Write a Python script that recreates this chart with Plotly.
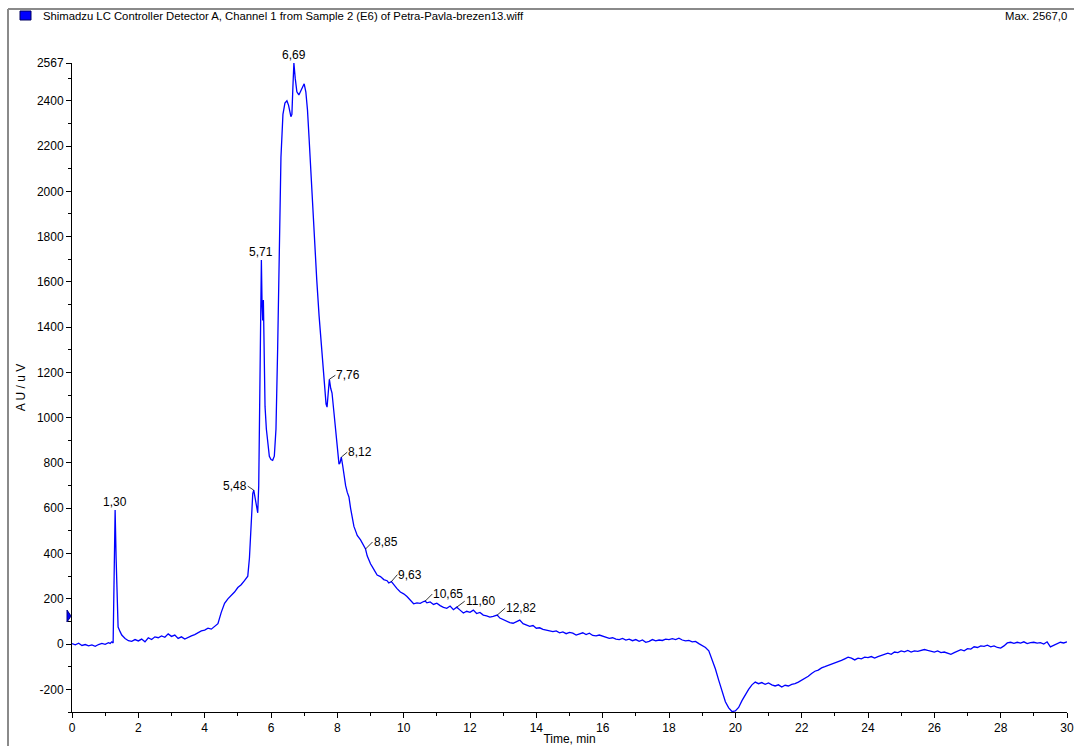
import plotly.graph_objects as go

# Chromatogram: retention time (min) vs detector response (uV)
time_min = [
    0.0, 0.1, 0.2, 0.3, 0.4, 0.5, 0.6, 0.7, 0.8, 0.9, 1.0, 1.1, 1.15, 1.2, 1.24,
    1.27, 1.30, 1.33, 1.36, 1.39, 1.45, 1.5, 1.6, 1.7, 1.8, 1.9, 2.0, 2.1, 2.2,
    2.3, 2.4, 2.5, 2.6, 2.7, 2.8, 2.9, 3.0, 3.1, 3.2, 3.3, 3.4, 3.5, 3.6, 3.7,
    3.8, 3.9, 4.0, 4.1, 4.2, 4.3, 4.4, 4.5, 4.6, 4.7, 4.8, 4.9, 5.0, 5.1, 5.2,
    5.3, 5.35, 5.4, 5.45, 5.48, 5.52, 5.56, 5.6, 5.63, 5.66, 5.69, 5.71, 5.73,
    5.75, 5.77, 5.79, 5.82, 5.86, 5.9, 5.95, 6.0, 6.05, 6.1, 6.15, 6.2, 6.25,
    6.3, 6.36, 6.42, 6.48, 6.53, 6.6, 6.63, 6.66, 6.69, 6.73, 6.78, 6.84, 6.9,
    6.96, 7.0, 7.05, 7.1, 7.15, 7.2, 7.3, 7.38, 7.45, 7.5, 7.57, 7.62, 7.66,
    7.69, 7.72, 7.76, 7.8, 7.84, 7.9, 7.95, 8.0, 8.05, 8.08, 8.12, 8.16, 8.2,
    8.25, 8.3, 8.35, 8.4, 8.45, 8.5, 8.55, 8.6, 8.7, 8.8, 8.85, 8.9, 9.0, 9.1,
    9.2, 9.3, 9.4, 9.5, 9.55, 9.63, 9.7, 9.8, 9.9, 10.0, 10.1, 10.2, 10.3, 10.4,
    10.5, 10.6, 10.65, 10.7, 10.8, 10.9, 11.0, 11.1, 11.2, 11.3, 11.4, 11.5,
    11.6, 11.7, 11.8, 11.9, 12.0, 12.1, 12.2, 12.3, 12.4, 12.5, 12.6, 12.7,
    12.82, 12.9, 13.0, 13.1, 13.2, 13.3, 13.4, 13.5, 13.6, 13.7, 13.8, 13.9,
    14.0, 14.1, 14.2, 14.3, 14.4, 14.5, 14.6, 14.7, 14.8, 14.9, 15.0, 15.1,
    15.2, 15.3, 15.4, 15.5, 15.6, 15.7, 15.8, 15.9, 16.0, 16.1, 16.2, 16.3,
    16.4, 16.5, 16.6, 16.7, 16.8, 16.9, 17.0, 17.1, 17.2, 17.3, 17.4, 17.5,
    17.6, 17.7, 17.8, 17.9, 18.0, 18.1, 18.2, 18.3, 18.4, 18.5, 18.6, 18.7,
    18.8, 18.9, 19.0, 19.1, 19.2, 19.3, 19.4, 19.5, 19.6, 19.7, 19.8, 19.9,
    20.0, 20.1, 20.2, 20.3, 20.4, 20.5, 20.6, 20.7, 20.8, 20.9, 21.0, 21.1,
    21.2, 21.3, 21.4, 21.5, 21.6, 21.7, 21.8, 21.9, 22.0, 22.1, 22.2, 22.3,
    22.4, 22.5, 22.6, 22.7, 22.8, 22.9, 23.0, 23.1, 23.2, 23.3, 23.4, 23.5,
    23.6, 23.7, 23.8, 23.9, 24.0, 24.1, 24.2, 24.3, 24.4, 24.5, 24.6, 24.7,
    24.8, 24.9, 25.0, 25.1, 25.2, 25.3, 25.4, 25.5, 25.6, 25.7, 25.8, 25.9,
    26.0, 26.1, 26.2, 26.3, 26.4, 26.5, 26.6, 26.7, 26.8, 26.9, 27.0, 27.1,
    27.2, 27.3, 27.4, 27.5, 27.6, 27.7, 27.8, 27.9, 28.0, 28.1, 28.2, 28.3,
    28.4, 28.5, 28.6, 28.7, 28.8, 28.9, 29.0, 29.1, 29.2, 29.3, 29.4, 29.5,
    29.6, 29.7, 29.8, 29.9, 30.0,
]

signal_uv = [
    2, -3, 4, -6, -2, -8, -4, -10, -2, 3, -1, 6, 3, 10, 5,
    300, 592, 380, 150, 75, 55, 40, 25, 15, 12, 20, 14, 22, 10,
    28, 20, 32, 28, 36, 30, 45, 34, 40, 25, 32, 22, 30, 36, 42,
    50, 58, 62, 70, 66, 78, 90, 140, 180, 200, 215, 230, 250, 262, 280,
    300, 380, 560, 665, 680, 640, 600, 580, 700, 1200, 1600, 1697, 1500,
    1430, 1520, 1250, 1050, 950, 880, 830, 815, 812, 830, 950, 1300, 1750,
    2150, 2340, 2390, 2400, 2380, 2330, 2340, 2460, 2567, 2500, 2440, 2426, 2445,
    2470, 2475, 2440, 2360, 2230, 2080, 1840, 1608, 1450, 1360, 1255, 1130, 1060,
    1047, 1100, 1170, 1130, 1109, 1020, 940, 850, 795, 800, 826, 790, 740,
    700, 670, 650, 600, 560, 520, 500, 480, 460, 430, 420, 390, 355, 330,
    305, 298, 285, 280, 270, 276, 262, 245, 230, 222, 210, 195, 178, 182,
    180, 188, 190, 182, 186, 175, 181, 170, 162, 158, 168, 152,
    163, 150, 137, 145, 140, 150, 135, 140, 128, 125, 119, 122,
    128, 115, 108, 100, 95, 92, 100, 106, 90, 85, 78, 82,
    70, 72, 65, 62, 60, 55, 58, 50, 54, 46, 52, 48,
    40, 45, 50, 42, 48, 38, 36, 40, 35, 30, 25, 28,
    22, 20, 25, 18, 22, 15, 20, 12, 18, 8, 12, 20,
    14, 18, 16, 22, 20, 24, 20, 26, 18, 14, 16, 10,
    12, 2, -5, -15, -30, -70, -110, -160, -205, -255, -282, -298,
    -295, -280, -250, -222, -200, -180, -168, -175, -170, -178, -172, -180,
    -185, -180, -190, -182, -185, -178, -175, -168, -160, -150, -142, -130,
    -120, -115, -105, -100, -95, -90, -85, -80, -72, -65, -58, -62,
    -70, -62, -65, -58, -60, -55, -62, -55, -50, -48, -40, -45,
    -35, -38, -30, -34, -28, -35, -30, -32, -28, -24, -28, -30,
    -35, -30, -38, -35, -40, -45, -38, -30, -25, -30, -20, -22,
    -12, -15, -8, -10, -5, -12, -8, -15, -18, -8, 5, 8,
    3, 8, 4, 10, 2, 6, 8, 4, 6, 0, 10, -12,
    -5, 0, 8, 5, 10,
]

# Peak labels: retention time and response at the apex
peak_labels = ["1,30", "5,48", "5,71", "6,69", "7,76", "8,12", "8,85",
               "9,63", "10,65", "11,60", "12,82"]
peak_times = [1.30, 5.48, 5.71, 6.69, 7.76, 8.12, 8.85, 9.63, 10.65, 11.60, 12.82]
peak_values = [592, 680, 1697, 2567, 1170, 826, 420, 276, 190, 163, 128]

y_tick_values = [-200, 0, 200, 400, 600, 800, 1000, 1200, 1400, 1600, 1800,
                 2000, 2200, 2400, 2567]
y_tick_labels = ["-200", "0", "200", "400", "600", "800", "1000", "1200",
                 "1400", "1600", "1800", "2000", "2200", "2400", "2567"]
x_tick_values = [0, 2, 4, 6, 8, 10, 12, 14, 16, 18, 20, 22, 24, 26, 28, 30]

baseline_mark = 124
y_min, y_max = -300, 2567

trace_title = ("Shimadzu LC Controller Detector A, Channel 1 from Sample 2 (E6) "
               "of Petra-Pavla-brezen13.wiff")
max_text = "Max. 2567,0"

FONT = "Liberation Sans, Arial, sans-serif"
W, H = 1074, 746
L, R, T, B = 72, 7, 63, 34
PW, PH = W - L - R, H - T - B


def px(xp):
    return (xp - L) / PW


def py(yp):
    return (H - B - yp) / PH


fig = go.Figure()
fig.add_trace(go.Scatter(
    x=time_min, y=signal_uv, mode="lines",
    line=dict(color="#0000ff", width=1.3),
    hoverinfo="skip", showlegend=False,
))

annotations = []
# None: label centred straight above the apex; otherwise leader-line offset in px
offsets = {
    "1,30": None, "5,71": None, "6,69": None,
    "5,48": (-6, -4), "7,76": (6, -4), "8,12": (6, -5), "8,85": (7, -7),
    "9,63": (6, -7), "10,65": (7, -7), "11,60": (8, -6), "12,82": (8, -7),
}
for lab, t, v in zip(peak_labels, peak_times, peak_values):
    off = offsets[lab]
    if off is None:
        annotations.append(dict(
            x=t, y=v, text=lab, showarrow=False, xanchor="center",
            yanchor="bottom", yshift=-1, font=dict(family=FONT, size=12, color="#000"),
        ))
    else:
        ax, ay = off
        annotations.append(dict(
            x=t, y=v, text=lab, showarrow=True, arrowhead=0, arrowwidth=0.8,
            arrowcolor="#000", ax=ax, ay=ay, standoff=0, borderpad=0,
            xanchor="left" if ax > 0 else "right", yanchor="middle",
            font=dict(family=FONT, size=12, color="#000"),
        ))

annotations.append(dict(
    xref="paper", yref="paper", x=px(41), y=py(16), text=trace_title,
    showarrow=False, xanchor="left", yanchor="middle",
    font=dict(family=FONT, size=11.3, color="#000"),
))
annotations.append(dict(
    xref="paper", yref="paper", x=px(1069), y=py(16), text=max_text,
    showarrow=False, xanchor="right", yanchor="middle",
    font=dict(family=FONT, size=11.3, color="#000"),
))

shapes = [
    # outer frame (left and top edges)
    dict(type="line", xref="paper", yref="paper", x0=px(8), x1=px(8),
         y0=py(9), y1=py(H + 5), line=dict(color="#8a8a8a", width=2)),
    dict(type="line", xref="paper", yref="paper", x0=px(8), x1=px(W + 5),
         y0=py(9), y1=py(9), line=dict(color="#8a8a8a", width=2)),
    # trace colour swatch
    dict(type="rect", xref="paper", yref="paper", x0=px(20), x1=px(31),
         y0=py(20), y1=py(11), fillcolor="#0000ff", line=dict(color="#000060", width=1)),
    # baseline marker on the response axis
    dict(type="path", xref="paper", yref="paper", xsizemode="pixel", ysizemode="pixel",
         xanchor=0, yanchor=(baseline_mark - y_min) / (y_max - y_min),
         path="M -5,6 L -1,0 L -5,-6 Z",
         fillcolor="#0000ff", line=dict(color="#000080", width=1)),
]

fig.update_layout(
    width=W, height=H,
    margin=dict(l=L, r=R, t=T, b=B, pad=0),
    paper_bgcolor="#ffffff", plot_bgcolor="#ffffff",
    font=dict(family=FONT, size=12, color="#000"),
    showlegend=False,
    annotations=annotations,
    shapes=shapes,
)
fig.update_xaxes(
    range=[0, 30], tickmode="array", tickvals=x_tick_values,
    ticks="outside", ticklen=5, tickwidth=1, tickcolor="#000",
    minor=dict(tickmode="linear", tick0=0, dtick=1, ticks="outside", ticklen=3,
               tickcolor="#000"),
    showline=True, linecolor="#000", linewidth=1, showgrid=False, zeroline=False,
    tickfont=dict(family=FONT, size=12, color="#000"),
    title=dict(text="Time, min", standoff=3, font=dict(family=FONT, size=12)),
    automargin=False,
)
fig.update_yaxes(
    range=[y_min, y_max], tickmode="array", tickvals=y_tick_values,
    ticktext=y_tick_labels,
    ticks="outside", ticklen=5, tickwidth=1, tickcolor="#000",
    minor=dict(tickmode="linear", tick0=0, dtick=100, ticks="outside", ticklen=3,
               tickcolor="#000"),
    showline=True, linecolor="#000", linewidth=1, showgrid=False, zeroline=False,
    tickfont=dict(family=FONT, size=12, color="#000"),
    title=dict(text="A U / u V", standoff=8, font=dict(family=FONT, size=12)),
    automargin=False,
)

fig.write_html("out.html")
